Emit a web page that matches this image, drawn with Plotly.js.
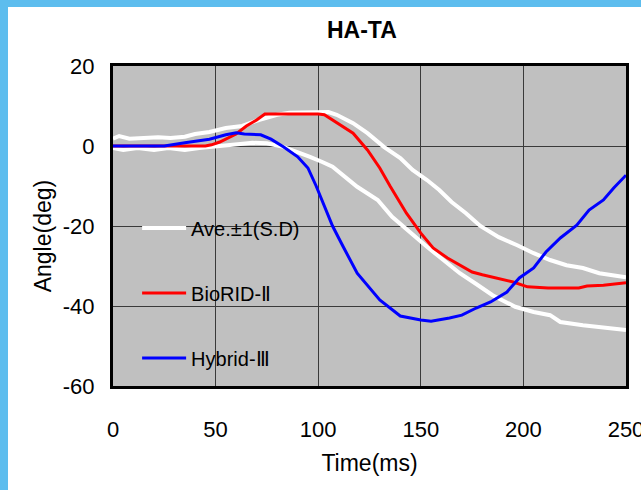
<!DOCTYPE html>
<html>
<head>
<meta charset="utf-8">
<script src="https://cdn.plot.ly/plotly-3.0.1.min.js"></script>
<style>
html,body{margin:0;padding:0;background:#5DBDEE;width:641px;height:490px;overflow:hidden;}
#chart{position:absolute;left:8px;top:7px;width:633px;height:483px;}
</style>
</head>
<body>
<div id="chart"></div>
<script>
// Time (ms) and angle (deg) values
const upperT = [0,3,8,15,22,28,35,40,47,55,63,71,80,86,95,105,109,117,124,132,140,146,153,159,165,172,179,188,197,205,213,221,229,237,250];
const upperV = [1.8,2.5,1.8,2.0,2.2,2.0,2.3,3.0,3.5,4.5,5.0,6.5,7.8,8.3,8.5,8.5,7.8,5.7,3.2,-0.2,-3,-6,-8.5,-11,-14,-16.8,-20,-22.8,-24.8,-26.8,-28.5,-29.8,-30.5,-31.8,-32.8];
const lowerT = [0,5,12,20,27,35,42,47,55,62,68,75,83,90,96,102,107,119,129,136,145,153,161,169,177,185,196,205,213,218,229,237,250];
const lowerV = [-0.5,-1,-0.5,-1,-0.5,-1,-0.5,-0.2,0.2,0.5,0.8,0.7,-0.2,-1.5,-2.7,-4,-5.2,-10.2,-13.5,-17.7,-21.8,-25.2,-28.5,-31.8,-34.5,-37.3,-40.2,-41.5,-42.3,-44,-44.8,-45.2,-46];
const biorT = [0,10,20,30,40,45,48,52,60,65,70,74,80,90,100,103,107,112,117,124,130,135,140,143,150,156,163,169,175,180,185,188,195,202,212,227,231,239,245,250];
const biorV = [0,0,0,0,0,0,0.3,1,3,5,6.5,8,8,8,8,7.8,6.5,4.8,3.2,-1,-5.5,-10,-14.2,-16.8,-21.8,-25.5,-28,-29.8,-31.5,-32.2,-32.8,-33,-34,-35.2,-35.5,-35.5,-35,-34.8,-34.5,-34.2];
const hybT = [0,10,25,35,47,55,60,64,72,77,83,90,95,99,103,107,112,119,130,140,150,155,164,170,177,184,192,198,205,211,218,226,232,239,244,250];
const hybV = [0,0,0,0.8,1.7,2.8,3.3,3,2.8,1.7,-0.2,-2.7,-5.5,-10,-15,-20,-25,-31.8,-38.5,-42.5,-43.5,-43.8,-43,-42.3,-40.5,-39,-36.5,-33,-30.5,-26.5,-23,-19.8,-16,-13.5,-10.5,-7.3];
const seriesNames = ['Ave.±1(S.D)', 'BioRID-Ⅱ', 'Hybrid-Ⅲ'];
const xTicks = [0,50,100,150,200,250];
const yTicks = [-60,-40,-20,0,20];
const yTitle = 'Angle(deg)';

const FONT = '"Liberation Sans", Arial, sans-serif';

const traces = [
  {x: upperT, y: upperV, mode: 'lines', name: seriesNames[0], legendgroup: 'a',
   line: {color: '#ffffff', width: 4}},
  {x: lowerT, y: lowerV, mode: 'lines', name: seriesNames[0], legendgroup: 'a', showlegend: false,
   line: {color: '#ffffff', width: 4}},
  {x: biorT, y: biorV, mode: 'lines', name: seriesNames[1], legendgroup: 'b',
   line: {color: '#ff0000', width: 3}},
  {x: hybT, y: hybV, mode: 'lines', name: seriesNames[2], legendgroup: 'c',
   line: {color: '#0000ff', width: 3}}
];

const layout = {
  width: 633, height: 483,
  margin: {l: 105, r: 15, t: 59, b: 104},
  paper_bgcolor: '#ffffff',
  plot_bgcolor: '#c0c0c0',
  font: {family: FONT, color: '#000000', size: 22},
  title: {text: '<b>HA-TA</b>', font: {family: FONT, size: 23, color: '#000'},
          xref: 'container', yref: 'container', x: 0.559, y: 0.952, xanchor: 'center', yanchor: 'middle'},
  xaxis: {
    range: [0, 250], tickvals: xTicks, ticktext: xTicks.map(String),
    showgrid: true, gridcolor: '#3a3a3a', gridwidth: 1, zeroline: false,
    showline: true, linecolor: '#000', linewidth: 3, mirror: true,
    ticks: '', ticklabelstandoff: 22, ticklabeloverflow: 'allow', tickfont: {size: 22},
    title: {text: 'Time(ms)', font: {size: 23}, standoff: 14},
    fixedrange: true
  },
  yaxis: {
    range: [-60, 20], tickvals: yTicks, ticktext: yTicks.map(String),
    showgrid: true, gridcolor: '#3a3a3a', gridwidth: 1, zeroline: false,
    showline: true, linecolor: '#000', linewidth: 3, mirror: true,
    ticks: '', ticklabelstandoff: 11, ticklabeloverflow: 'allow', tickfont: {size: 22},
    fixedrange: true
  },
  annotations: [
    {text: yTitle, xref: 'paper', yref: 'paper', x: -0.137, y: 0.47,
     xanchor: 'center', yanchor: 'middle', textangle: -90, showarrow: false,
     font: {size: 23, family: FONT, color: '#000'}}
  ],
  shapes: [
    {type: 'rect', xref: 'paper', yref: 'paper', x0: 0.047, x1: 0.366, y0: 0.008, y1: 0.575,
     fillcolor: '#c0c0c0', line: {width: 0}, layer: 'between'}
  ],
  legend: {
    x: 0.047, y: 0.555, xanchor: 'left', yanchor: 'top',
    bgcolor: 'rgba(0,0,0,0)', borderwidth: 0,
    font: {size: 20, family: FONT},
    traceorder: 'grouped', tracegroupgap: 36, itemwidth: 44
  },
  showlegend: true
};

Plotly.newPlot('chart', traces, layout, {displayModeBar: false, staticPlot: true});
</script>
</body>
</html>
